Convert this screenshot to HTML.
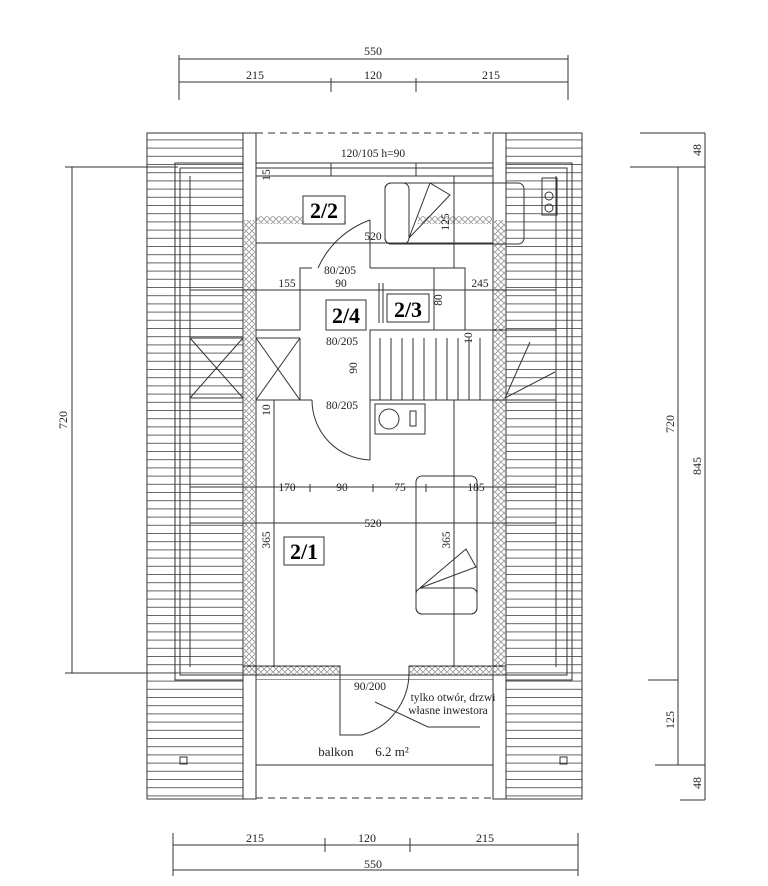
<!DOCTYPE html>
<html><head><meta charset="utf-8"><style>
html,body{margin:0;padding:0;background:#fff;}
svg{display:block;font-family:"Liberation Serif",serif;}
</style></head><body>
<svg width="768" height="886" viewBox="0 0 768 886" xmlns="http://www.w3.org/2000/svg">
<defs>
<pattern id="roof" width="10" height="8.2" patternUnits="userSpaceOnUse">
<line x1="0" y1="0.5" x2="10" y2="0.5" stroke="#555" stroke-width="0.9"/>
</pattern>
<pattern id="ins" width="6" height="6" patternUnits="userSpaceOnUse">
<circle cx="3" cy="3" r="2.3" fill="none" stroke="#666" stroke-width="0.7"/>
</pattern>
</defs>
<g stroke="#333" stroke-width="1" fill="none">
<line x1="179" y1="59" x2="568" y2="59"/>
<line x1="179" y1="82" x2="568" y2="82"/>
<line x1="179" y1="55" x2="179" y2="100"/>
<line x1="568" y1="55" x2="568" y2="100"/>
<line x1="331" y1="78" x2="331" y2="92"/>
<line x1="416" y1="78" x2="416" y2="92"/>
<line x1="173" y1="845" x2="578" y2="845"/>
<line x1="173" y1="870" x2="578" y2="870"/>
<line x1="173" y1="833" x2="173" y2="876"/>
<line x1="578" y1="833" x2="578" y2="876"/>
<line x1="325" y1="838" x2="325" y2="852"/>
<line x1="410" y1="838" x2="410" y2="852"/>
<line x1="72" y1="167" x2="72" y2="673"/>
<line x1="65" y1="167" x2="178" y2="167"/>
<line x1="65" y1="673" x2="178" y2="673"/>
<line x1="678" y1="167" x2="678" y2="765"/>
<line x1="705" y1="133" x2="705" y2="800"/>
<line x1="640" y1="133" x2="705" y2="133"/>
<line x1="630" y1="167" x2="705" y2="167"/>
<line x1="648" y1="680" x2="678" y2="680"/>
<line x1="655" y1="765" x2="705" y2="765"/>
<line x1="680" y1="800" x2="705" y2="800"/>
</g>
<g font-size="12" fill="#222" text-anchor="middle">
<text x="373" y="55">550</text>
<text x="255" y="79">215</text>
<text x="373" y="79">120</text>
<text x="491" y="79">215</text>
<text x="255" y="842">215</text>
<text x="367" y="842">120</text>
<text x="485" y="842">215</text>
<text x="373" y="868">550</text>
<text transform="translate(67,420) rotate(-90)">720</text>
<text transform="translate(674,424) rotate(-90)">720</text>
<text transform="translate(701,466) rotate(-90)">845</text>
<text transform="translate(701,150) rotate(-90)">48</text>
<text transform="translate(674,720) rotate(-90)">125</text>
<text transform="translate(701,783) rotate(-90)">48</text>
</g>
<rect x="147" y="133" width="96" height="666" fill="url(#roof)" stroke="#333"/>
<rect x="505" y="133" width="77" height="666" fill="url(#roof)" stroke="#333"/>
<g stroke="#333" stroke-width="1" fill="none">
<rect x="175" y="163" width="397" height="517"/>
<rect x="180" y="168" width="387" height="507"/>
<line x1="190" y1="176" x2="190" y2="667"/>
<line x1="556" y1="176" x2="556" y2="667"/>
</g>
<rect x="256" y="176" width="237" height="491" fill="#fff"/>
<rect x="256" y="680" width="237" height="118" fill="#fff"/>
<rect x="256" y="133" width="237" height="30" fill="#fff"/>
<g stroke="#333" stroke-width="1" fill="none">
<line x1="256" y1="133" x2="493" y2="133" stroke-dasharray="7,5"/>
<line x1="256" y1="798" x2="493" y2="798" stroke-dasharray="7,5"/>
<rect x="243" y="133" width="13" height="666" fill="#fff"/>
<rect x="493" y="133" width="13" height="666" fill="#fff"/>
<rect x="244" y="220" width="11" height="447" fill="url(#ins)" stroke="none"/>
<rect x="494" y="220" width="11" height="447" fill="url(#ins)" stroke="none"/>
<line x1="256" y1="176" x2="493" y2="176"/>
<line x1="256" y1="163" x2="493" y2="163"/>
<rect x="331" y="163" width="85" height="13"/>
<rect x="256" y="216" width="90" height="8" fill="url(#ins)" stroke="none"/>
<rect x="418" y="216" width="75" height="8" fill="url(#ins)" stroke="none"/>
<line x1="256" y1="243" x2="493" y2="243"/>
<rect x="243" y="666" width="97" height="9" fill="url(#ins)"/>
<rect x="409" y="666" width="97" height="9" fill="url(#ins)"/>
<rect x="385" y="183" width="139" height="61" rx="6"/>
<rect x="385" y="183" width="24" height="61" rx="6"/>
<polyline points="409,238 430,183 450,195 409,238"/>
<rect x="542" y="178" width="15" height="37"/>
<circle cx="549" cy="196" r="4"/><circle cx="549" cy="208" r="4"/>
<polyline points="256,330 300,330 300,268 312,268"/>
<line x1="370" y1="220" x2="370" y2="268"/>
<polyline points="370,268 465,268 465,330 370,330"/>
<line x1="379" y1="283" x2="379" y2="323"/>
<line x1="383" y1="283" x2="383" y2="323"/>
<path d="M370 220 A90 90 0 0 0 318 268"/>
<path d="M312 400 A60 60 0 0 0 370 460"/>
<line x1="370" y1="400" x2="370" y2="460"/>
<line x1="256" y1="400" x2="312" y2="400"/>
<line x1="300" y1="338" x2="300" y2="400"/>
<line x1="256" y1="338" x2="300" y2="338"/>
<line x1="256" y1="338" x2="300" y2="400"/>
<line x1="300" y1="338" x2="256" y2="400"/>
<line x1="190" y1="338" x2="243" y2="338"/>
<line x1="190" y1="398" x2="243" y2="398"/>
<line x1="190" y1="338" x2="243" y2="398"/>
<line x1="243" y1="338" x2="190" y2="398"/>
<rect x="370" y="330" width="186" height="70"/>
<line x1="380" y1="338" x2="380" y2="400"/><line x1="391" y1="338" x2="391" y2="400"/>
<line x1="402" y1="338" x2="402" y2="400"/><line x1="413" y1="338" x2="413" y2="400"/>
<line x1="424" y1="338" x2="424" y2="400"/><line x1="436" y1="338" x2="436" y2="400"/>
<line x1="447" y1="338" x2="447" y2="400"/><line x1="458" y1="338" x2="458" y2="400"/>
<line x1="469" y1="338" x2="469" y2="400"/><line x1="480" y1="338" x2="480" y2="400"/>
<line x1="370" y1="400" x2="556" y2="400"/>
<line x1="505" y1="398" x2="555" y2="372"/><line x1="505" y1="398" x2="530" y2="342"/>
<rect x="375" y="404" width="50" height="30"/>
<circle cx="389" cy="419" r="10"/>
<rect x="410" y="411" width="6" height="15"/>
<line x1="190" y1="290" x2="556" y2="290"/>
<line x1="190" y1="487" x2="556" y2="487"/>
<line x1="190" y1="523" x2="556" y2="523"/>
<line x1="454" y1="176" x2="454" y2="268"/>
<line x1="434" y1="268" x2="434" y2="330"/>
<line x1="274" y1="400" x2="274" y2="667"/>
<line x1="454" y1="400" x2="454" y2="667"/>
<line x1="310" y1="484" x2="310" y2="492"/><line x1="373" y1="484" x2="373" y2="492"/><line x1="426" y1="484" x2="426" y2="492"/>
<rect x="416" y="476" width="61" height="138" rx="6"/>
<rect x="416" y="588" width="61" height="26" rx="6"/>
<polyline points="420,588 476,567 466,549 420,588"/>
<polyline points="340,667 340,735 362,735"/>
<path d="M362 735 A65 65 0 0 0 409 672"/>
<polyline points="375,702 428,727 480,727"/>
<line x1="256" y1="765" x2="493" y2="765"/>
<rect x="180" y="757" width="7" height="7"/><rect x="560" y="757" width="7" height="7"/>
</g>
<g font-size="11.5" fill="#222" text-anchor="middle">
<text x="373" y="157">120/105 h=90</text>
<text x="373" y="240">520</text>
<text x="340" y="274">80/205</text>
<text x="287" y="287">155</text>
<text x="341" y="287">90</text>
<text x="480" y="287">245</text>
<text x="342" y="345">80/205</text>
<text x="342" y="409">80/205</text>
<text x="287" y="491">170</text>
<text x="342" y="491">90</text>
<text x="400" y="491">75</text>
<text x="476" y="491">185</text>
<text x="373" y="527">520</text>
<text x="370" y="690">90/200</text>
<text x="453" y="701">tylko otwór, drzwi</text>
<text x="448" y="714">własne inwestora</text>
<text x="336" y="756" font-size="13">balkon</text>
<text x="392" y="756" font-size="13">6.2 m²</text>
<text transform="translate(442,300) rotate(-90)">80</text>
<text transform="translate(357,368) rotate(-90)">90</text>
<text transform="translate(270,540) rotate(-90)">365</text>
<text transform="translate(450,540) rotate(-90)">365</text>
<text transform="translate(449,222) rotate(-90)">125</text>
<text transform="translate(270,175) rotate(-90)">15</text>
<text transform="translate(270,410) rotate(-90)">10</text>
<text transform="translate(472,338) rotate(-90)">10</text>
</g>
<g font-size="22" font-weight="bold" fill="#000" text-anchor="middle">
<rect x="303" y="196" width="42" height="28" fill="#fff" stroke="#333"/><text x="324" y="218">2/2</text>
<rect x="326" y="300" width="40" height="30" fill="#fff" stroke="#333"/><text x="346" y="323">2/4</text>
<rect x="387" y="294" width="42" height="28" fill="#fff" stroke="#333"/><text x="408" y="317">2/3</text>
<rect x="284" y="537" width="40" height="28" fill="#fff" stroke="#333"/><text x="304" y="559">2/1</text>
</g>
</svg>
</body></html>
